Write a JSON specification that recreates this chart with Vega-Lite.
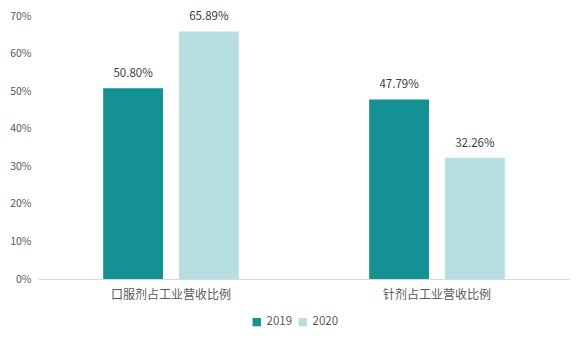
{
  "$schema": "https://vega.github.io/schema/vega-lite/v6.json",
  "width": 532,
  "height": 263,
  "autosize": "none",
  "padding": {"left": 38, "top": 16, "right": 13, "bottom": 63},
  "background": "white",
  "config": {
    "view": {"stroke": null},
    "font": "Noto Sans CJK SC"
  },
  "data": {
    "values": [
      {"category": "口服剂占工业营收比例", "year": "2019", "value": 0.508},
      {"category": "口服剂占工业营收比例", "year": "2020", "value": 0.6589},
      {"category": "针剂占工业营收比例", "year": "2019", "value": 0.4779},
      {"category": "针剂占工业营收比例", "year": "2020", "value": 0.3226}
    ]
  },
  "encoding": {
    "x": {
      "field": "category",
      "type": "nominal",
      "sort": null,
      "scale": {"paddingInner": 0, "paddingOuter": 0},
      "axis": {
        "title": null,
        "labelAngle": 0,
        "ticks": false,
        "labelPadding": 10,
        "labelFontSize": 12,
        "labelColor": "#595959",
        "domainColor": "#d9d9d9",
        "domainWidth": 1
      }
    },
    "xOffset": {
      "field": "year",
      "type": "nominal",
      "scale": {"paddingInner": 0.21, "paddingOuter": 0.86}
    },
    "y": {
      "field": "value",
      "type": "quantitative",
      "scale": {"domain": [0, 0.7]},
      "axis": {
        "title": null,
        "format": ".0%",
        "values": [0, 0.1, 0.2, 0.3, 0.4, 0.5, 0.6, 0.7],
        "labelOverlap": false,
        "labelFlush": false,
        "domain": false,
        "ticks": false,
        "grid": false,
        "labelPadding": 7,
        "labelFontSize": 10.5,
        "labelColor": "#595959"
      }
    }
  },
  "layer": [
    {
      "mark": {"type": "bar"},
      "encoding": {
        "color": {
          "field": "year",
          "type": "nominal",
          "scale": {"domain": ["2019", "2020"], "range": ["#149192", "#b7dfe1"]},
          "legend": {
            "title": null,
            "orient": "none",
            "direction": "horizontal",
            "legendX": 213,
            "legendY": 300,
            "symbolType": "square",
            "symbolSize": 70,
            "symbolStrokeWidth": 0,
            "labelFontSize": 11.5,
            "labelColor": "#595959",
            "columnPadding": 4,
            "labelOffset": 4
          }
        }
      }
    },
    {
      "mark": {"type": "text", "baseline": "bottom", "dy": -9, "fontSize": 11.5, "color": "#404040"},
      "encoding": {
        "text": {"field": "value", "type": "quantitative", "format": ".2%"}
      }
    }
  ]
}
